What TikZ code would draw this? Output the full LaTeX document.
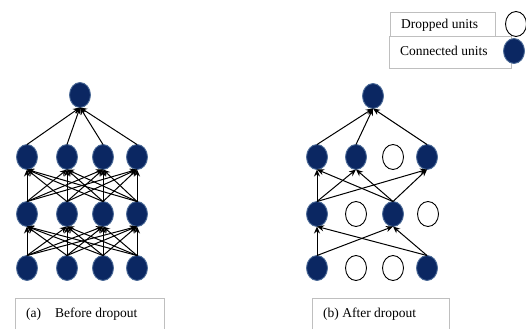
\documentclass[tikz,border=0pt]{standalone}
\usepackage{fontspec}
\setmainfont{Liberation Serif}
\usetikzlibrary{shapes.geometric,arrows.meta}
\definecolor{unitfill}{HTML}{0B2762}
\definecolor{unitedge}{HTML}{4D6C98}
\definecolor{boxgray}{HTML}{BFBFBF}
\tikzset{
  unit/.style={ellipse,minimum width=21pt,minimum height=25pt,inner sep=0pt,outer sep=0pt,fill=unitfill,draw=unitedge,line width=0.9pt},
  dropunit/.style={ellipse,minimum width=21pt,minimum height=25pt,inner sep=0pt,outer sep=0pt,draw=black,line width=0.9pt},
  conn/.style={-{Stealth[length=7pt,width=6pt]},line width=1pt,black},
  lbl/.style={anchor=base west,inner sep=0pt,font=\fontsize{13.5}{16}\selectfont},
  frame/.style={draw=boxgray,line width=0.7pt}
}
\begin{document}
\begin{tikzpicture}[x=1pt,y=-1pt]
\useasboundingbox (0,0) rectangle (526,329);
% ---------- left network ----------
\node[unit] (Lt) at (80,95) {};
\foreach \i/\x in {1/27,2/67,3/103,4/137}{
  \node[unit] (Lc\i) at (\x,157) {};
  \node[unit] (Lb\i) at (\x,214) {};
  \node[unit] (La\i) at (\x,268) {};
}
\foreach \i in {1,...,4}{
  \foreach \j in {1,...,4}{
    \draw[conn] (La\i.north) -- (Lb\j.south);
    \draw[conn] (Lb\i.north) -- (Lc\j.south);
  }
  \draw[conn] (Lc\i.north) -- (Lt.south);
}
% ---------- right network ----------
\node[unit] (Rt) at (373,96) {};
\node[unit] (Rc1) at (317,157) {};
\node[unit] (Rc2) at (356,157) {};
\node[dropunit] (Rc3) at (393,157) {};
\node[unit] (Rc4) at (427,157) {};
\node[unit] (Rb1) at (317,214) {};
\node[dropunit] (Rb2) at (356,214) {};
\node[unit] (Rb3) at (393,214) {};
\node[dropunit] (Rb4) at (428,214) {};
\node[unit] (Ra1) at (317,268) {};
\node[dropunit] (Ra2) at (356,268) {};
\node[dropunit] (Ra3) at (393,268) {};
\node[unit] (Ra4) at (427,268) {};
\foreach \s in {Ra1,Ra4}{
  \foreach \t in {Rb1,Rb3}{\draw[conn] (\s.north) -- (\t.south);}
}
\foreach \s in {Rb1,Rb3}{
  \foreach \t in {Rc1,Rc2,Rc4}{\draw[conn] (\s.north) -- (\t.south);}
}
\foreach \s in {Rc1,Rc2,Rc4}{\draw[conn] (\s.north) -- (Rt.south);}
% ---------- captions ----------
\draw[frame] (15,329) -- (15,298) -- (164,298) -- (164,329);
\node[lbl] (capa) at (26,317) {(a)};
\node[lbl] (capatext) at (55,317) {Before dropout};
\draw[frame] (312,329) -- (312,298) -- (449,298) -- (449,329);
\node[lbl] (capb) at (323,317) {(b) After dropout};
% ---------- legend ----------
\draw[frame,fill=white] (390,12) rectangle (495,36);
\draw[frame,fill=white] (389,36) rectangle (511,68);
\node[lbl] (legd) at (401,29) {Dropped units};
\node[lbl] (legc) at (400,56) {Connected units};
\node[dropunit] (legdu) at (516,24) {};
\node[unit] (legcu) at (514,51) {};
\end{tikzpicture}
\end{document}
